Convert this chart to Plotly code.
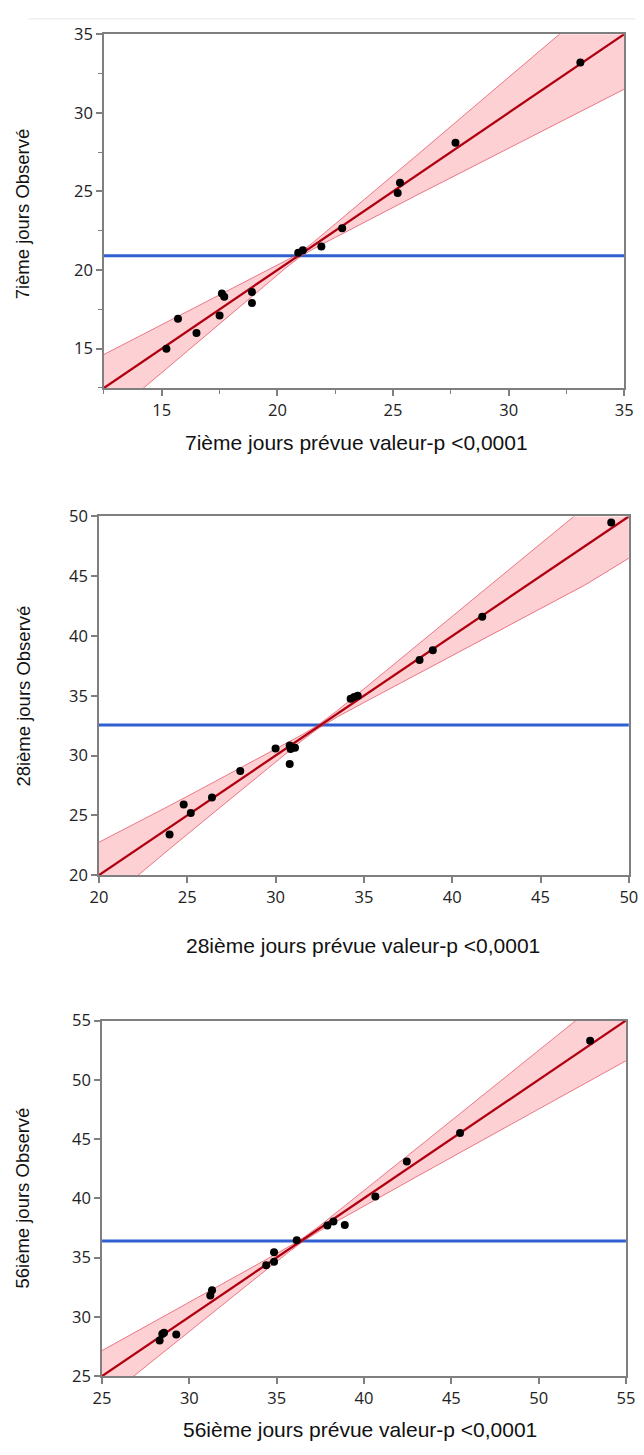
import plotly.graph_objects as go

W, H = 644, 1455

# ---------------- data ----------------
d7_pred = [15.2, 15.7, 16.5, 17.5, 17.6, 17.7, 18.9, 18.9, 20.9, 21.1, 21.9, 22.8, 25.2, 25.3, 27.7, 33.1]
d7_obs = [15.0, 16.9, 16.0, 17.1, 18.5, 18.3, 18.6, 17.9, 21.1, 21.25, 21.5, 22.65, 24.9, 25.55, 28.1, 33.2]
d7_mean = 20.9
d7_band_x = [12.5, 14, 16, 18, 19.5, 20.5, 21, 21.5, 22.5, 24, 26, 28, 30, 32, 35]
d7_band_hi = [14.63, 15.76, 17.26, 18.77, 19.93, 20.70, 21.15, 21.70, 22.93, 24.77, 27.26, 29.76, 32.25, 34.75, 38.5]
d7_band_lo = [10.37, 12.24, 14.74, 17.23, 19.07, 20.30, 20.85, 21.30, 22.07, 23.23, 24.74, 26.24, 27.75, 29.25, 31.5]
d7_fit = [12.5, 35]

d28_pred = [24.0, 24.8, 25.2, 26.4, 28.0, 30.0, 30.8, 30.85, 31.1, 30.8, 34.25, 34.45, 34.65, 38.15, 38.9, 41.7, 49.0]
d28_obs = [23.4, 25.9, 25.2, 26.5, 28.7, 30.6, 30.85, 30.55, 30.65, 29.3, 34.75, 34.9, 35.0, 38.0, 38.8, 41.6, 49.5]
d28_mean = 32.55
d28_band_x = [20, 22, 24, 26, 28, 30, 31.5, 32.4, 33.5, 35, 37.5, 40, 42.5, 45, 47.5, 50]
d28_band_hi = [22.75, 24.25, 25.81, 27.38, 28.95, 30.53, 31.74, 32.55, 33.77, 35.57, 38.6, 41.63, 44.67, 47.71, 50.75, 53.5]
d28_band_lo = [17.25, 19.75, 22.19, 24.62, 27.05, 29.47, 31.26, 32.25, 33.23, 34.43, 36.4, 38.37, 40.33, 42.29, 44.25, 46.5]
d28_fit = [20, 50]

d56_pred = [28.3, 28.45, 28.55, 29.25, 31.2, 31.3, 34.4, 34.85, 34.85, 36.15, 37.9, 38.25, 38.9, 40.65, 42.45, 45.5, 52.95]
d56_obs = [28.0, 28.55, 28.65, 28.5, 31.8, 32.25, 34.35, 34.65, 35.45, 36.45, 37.7, 38.05, 37.75, 40.15, 43.1, 45.5, 53.3]
d56_mean = 36.4
d56_band_x = [25, 27.5, 30, 32.5, 34.5, 35.8, 36.6, 37.5, 39, 41, 43.5, 46, 48.5, 51, 53, 55]
d56_band_hi = [27.15, 29.18, 31.22, 33.26, 34.92, 36.01, 36.75, 37.72, 39.47, 41.82, 44.78, 47.74, 50.7, 53.66, 56.03, 58.4]
d56_band_lo = [22.85, 25.82, 28.78, 31.74, 34.08, 35.59, 36.45, 37.28, 38.53, 40.18, 42.22, 44.26, 46.3, 48.34, 49.97, 51.6]
d56_fit = [25, 55]

x_titles = ["7ième jours prévue valeur-p <0,0001",
            "28ième jours prévue valeur-p <0,0001",
            "56ième jours prévue valeur-p <0,0001"]
y_titles = ["7ième jours Observé", "28ième jours Observé", "56ième jours Observé"]
ranges = [[12.5, 35], [20, 50], [25, 55]]

# ---------------- layout (pixel boxes) ----------------
boxes = [  # left, right, top, bottom in px
    (97.7, 633.0, 22.5, 382.0),
    (92.5, 637.7, 512.5, 877.0),
    (95.7, 634.7, 1024.7, 1386.0),
]
xtitle_pos = [(357, 437), (364, 948), (361, 1440)]
ytitle_pos = [(14, 205), (14, 695), (14, 1205)]
minor = [True, False, False]

panels = [
    (d7_pred, d7_obs, d7_mean, d7_band_x, d7_band_hi, d7_band_lo, d7_fit),
    (d28_pred, d28_obs, d28_mean, d28_band_x, d28_band_hi, d28_band_lo, d28_fit),
    (d56_pred, d56_obs, d56_mean, d56_band_x, d56_band_hi, d56_band_lo, d56_fit),
]

fig = go.Figure()
axis_color = "#7f7f7f"
tick_font = dict(family="Open Sans, Noto Sans, sans-serif", size=16.5, color="#222222")
xtitle_font = dict(family="Liberation Sans, Arial, sans-serif", size=21, color="#111111")
ytitle_font = dict(family="Liberation Sans, Arial, sans-serif", size=18.5, color="#111111")

annotations = []
for i, (px, py, mean, bx, bhi, blo, fit) in enumerate(panels):
    n = "" if i == 0 else str(i + 1)
    xa, ya = "x" + n, "y" + n
    lo, hi = ranges[i]
    # mean line
    fig.add_trace(go.Scatter(x=ranges[i], y=[mean, mean], mode="lines",
                             line=dict(color="#2f5fd0", width=3),
                             xaxis=xa, yaxis=ya, showlegend=False, hoverinfo="skip"))
    # confidence band
    fig.add_trace(go.Scatter(x=bx, y=blo, mode="lines",
                             line=dict(color="rgba(225,60,80,0.65)", width=1),
                             xaxis=xa, yaxis=ya, showlegend=False, hoverinfo="skip"))
    fig.add_trace(go.Scatter(x=bx, y=bhi, mode="lines", fill="tonexty",
                             fillcolor="rgba(245,60,75,0.24)",
                             line=dict(color="rgba(225,60,80,0.65)", width=1),
                             xaxis=xa, yaxis=ya, showlegend=False, hoverinfo="skip"))
    # fit line
    fig.add_trace(go.Scatter(x=fit, y=fit, mode="lines",
                             line=dict(color="#b00010", width=2.3),
                             xaxis=xa, yaxis=ya, showlegend=False, hoverinfo="skip"))
    # points
    fig.add_trace(go.Scatter(x=px, y=py, mode="markers",
                             marker=dict(color="black", size=8),
                             xaxis=xa, yaxis=ya, showlegend=False))

    l, r, t, b = boxes[i]
    common = dict(range=[lo, hi], showline=True, mirror=True, linecolor=axis_color,
                  linewidth=1.5, ticks="outside", ticklen=6, tickwidth=1.5,
                  tickcolor=axis_color, showgrid=False, zeroline=False,
                  tickfont=tick_font, dtick=5, tick0=0, fixedrange=True)
    if minor[i]:
        common["minor"] = dict(ticks="outside", ticklen=4, tickwidth=1.2,
                               tickcolor=axis_color, dtick=2.5, tick0=0, showgrid=False)
    fig.layout["xaxis" + n] = dict(domain=[l / W, r / W], anchor=ya, **common)
    fig.layout["yaxis" + n] = dict(domain=[1 - b / H, 1 - t / H], anchor=xa, **common)

    annotations.append(dict(text=x_titles[i], x=xtitle_pos[i][0] / W, y=1 - xtitle_pos[i][1] / H,
                            xref="paper", yref="paper", showarrow=False, font=xtitle_font,
                            xanchor="center", yanchor="middle"))
    annotations.append(dict(text=y_titles[i], x=ytitle_pos[i][0] / W, y=1 - ytitle_pos[i][1] / H,
                            xref="paper", yref="paper", showarrow=False, font=ytitle_font,
                            textangle=-90, xanchor="center", yanchor="middle"))

fig.update_layout(
    width=W, height=H,
    margin=dict(l=0, r=0, t=0, b=0),
    paper_bgcolor="white", plot_bgcolor="white",
    annotations=annotations,
    shapes=[dict(type="line", xref="paper", yref="paper", x0=20 / W, x1=1, y0=1 - 7 / H, y1=1 - 7 / H,
                 line=dict(color="#e4e4e4", width=1))],
)

fig.write_html("out.html", config={"displayModeBar": False},
               post_script="document.body.style.margin='0';document.body.style.padding='0';")
